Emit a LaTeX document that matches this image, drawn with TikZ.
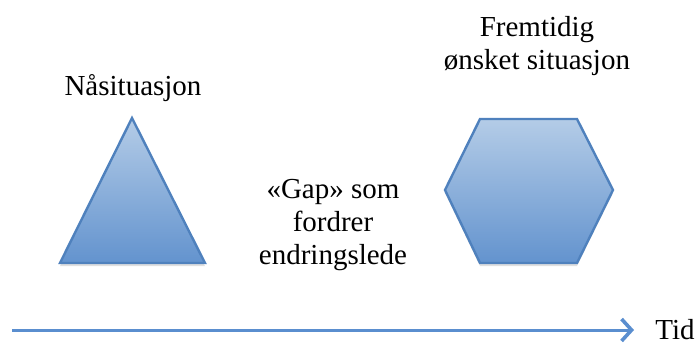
\documentclass[tikz,border=0pt]{standalone}
\usepackage{fontspec}
\setmainfont{Liberation Serif}
\usepackage{tikz}
\usetikzlibrary{arrows.meta, positioning, shadows}
\definecolor{mTop}{HTML}{B4CCE7}
\definecolor{mBottom}{HTML}{6393CE}
\definecolor{mEdge}{HTML}{4F81BD}
\definecolor{mArrow}{HTML}{5A8ECF}

\begin{document}
\begin{tikzpicture}[x=0.5pt, y=-0.5pt,
      shp/.style={draw=mEdge, line width=1.2pt, line join=miter, top color=mTop, bottom color=mBottom,
        drop shadow={shadow xshift=0pt, shadow yshift=-1.5pt, opacity=0.25}},
      lbl/.style={align=center, inner sep=0pt, font=\fontsize{14.5}{16.5}\selectfont}]
    \useasboundingbox (0,0) rectangle (698,345);
    % shapes
    \path[shp] (132,118) -- (205,263) -- (60,263) -- cycle;
    \path[shp] (480,119) -- (577,119) -- (613,190) -- (577,263) -- (480,263) -- (445,190) -- cycle;
    % texts (base = last line)
    \node[lbl, anchor=base] (now) at (133,95) {Nåsituasjon};
    \node[lbl, anchor=base] (future) at (537,69) {Fremtidig\\ønsket situasjon};
    \node[lbl, anchor=base] (gap) at (333,264) {«Gap» som\\fordrer\\endringslede};
    % time axis
    \coordinate (t0) at (12,330);
    \coordinate (t1) at (634,330);
    \node[lbl, anchor=base west] (tid) at (655,339) {Tid};
    \draw[mArrow, line width=1.5pt, -{Straight Barb[length=5pt, width=11pt, line width=1.8pt]}] (t0) -- (t1);
  \end{tikzpicture}
\end{document}
